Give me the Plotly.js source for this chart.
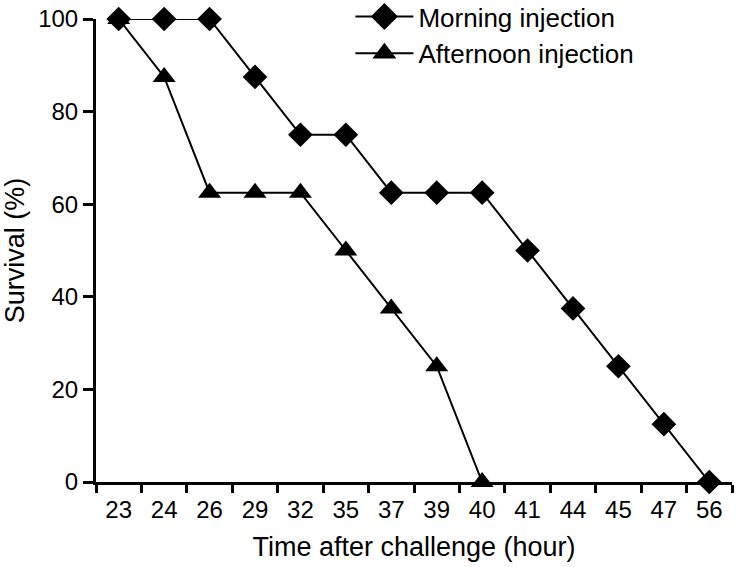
<!DOCTYPE html>
<html>
<head>
<meta charset="utf-8">
<script src="https://cdn.plot.ly/plotly-3.0.1.min.js"></script>
<style>html,body{margin:0;padding:0;background:#fff;}#chart{width:736px;height:567px;}</style>
</head>
<body>
<div id="chart"></div>
<script>
const categories = ["23","24","26","29","32","35","37","39","40","41","44","45","47","56"];
const morningX = ["23","24","26","29","32","35","37","39","40","41","44","45","47","56"];
const morningY = [100,100,100,87.5,75,75,62.5,62.5,62.5,50,37.5,25,12.5,0];
const afternoonX = ["23","24","26","29","32","35","37","39","40"];
const afternoonY = [100,87.5,62.5,62.5,62.5,50,37.5,25,0];
const yTicks = [0,20,40,60,80,100];

const FONT = "Liberation Sans, Arial, sans-serif";

const traces = [
  {
    x: morningX, y: morningY, name: "Morning injection", type: "scatter", mode: "lines+markers",
    legendgroup: "m",
    line: {color: "#000", width: 2},
    marker: {symbol: "diamond", size: 19, color: "#000"},
    cliponaxis: false
  },
  {
    x: afternoonX, y: afternoonY, name: "Afternoon injection", type: "scatter", mode: "lines+markers",
    legendgroup: "a",
    line: {color: "#000", width: 2},
    marker: {symbol: "triangle-up", size: 20, color: "#000"},
    cliponaxis: false
  }
];

const layout = {
  width: 736, height: 567,
  margin: {l: 96, r: 4, t: 19, b: 85, autoexpand: false},
  paper_bgcolor: "#fff", plot_bgcolor: "#fff",
  font: {family: FONT, color: "#000"},
  showlegend: true,
  legend: {
    x: 0.4, y: 1.056, xanchor: "left", yanchor: "top",
    font: {family: FONT, size: 26, color: "#000"},
    bgcolor: "rgba(255,255,255,0)",
    traceorder: "grouped",
    tracegroupgap: 0,
    itemwidth: 58
  },
  xaxis: {
    type: "category",
    categoryorder: "array", categoryarray: categories,
    range: [-0.5, 13.5],
    tickson: "boundaries",
    ticks: "outside", ticklen: 8, tickwidth: 3, tickcolor: "#000",
    ticklabelstandoff: 4,
    showline: true, linecolor: "#000", linewidth: 3,
    showgrid: false, zeroline: false,
    tickfont: {family: FONT, size: 24, color: "#000"},
    title: {text: "Time after challenge (hour)", font: {family: FONT, size: 27, color: "#000"}, standoff: 16}
  },
  yaxis: {
    range: [0, 100],
    tickvals: yTicks,
    ticks: "outside", ticklen: 10, tickwidth: 3, tickcolor: "#000",
    showline: true, linecolor: "#000", linewidth: 3,
    showgrid: false, zeroline: false,
    tickfont: {family: FONT, size: 24, color: "#000"},
    title: {text: "Survival (%)", font: {family: FONT, size: 27, color: "#000"}, standoff: 10}
  }
};

Plotly.newPlot("chart", traces, layout, {displayModeBar: false, staticPlot: true}).then(function (gd) {
  // enlarge legend symbols to match the reference (Plotly caps legend marker size)
  gd.querySelectorAll(".legend .legendpoints path.scatterpts").forEach(function (p) {
    const t = p.getAttribute("transform") || "";
    p.setAttribute("transform", t + " scale(1.3)");
  });
  gd.querySelectorAll(".legend .legendlines path").forEach(function (p) {
    p.style.strokeWidth = "2px";
  });
});
</script>
</body>
</html>
